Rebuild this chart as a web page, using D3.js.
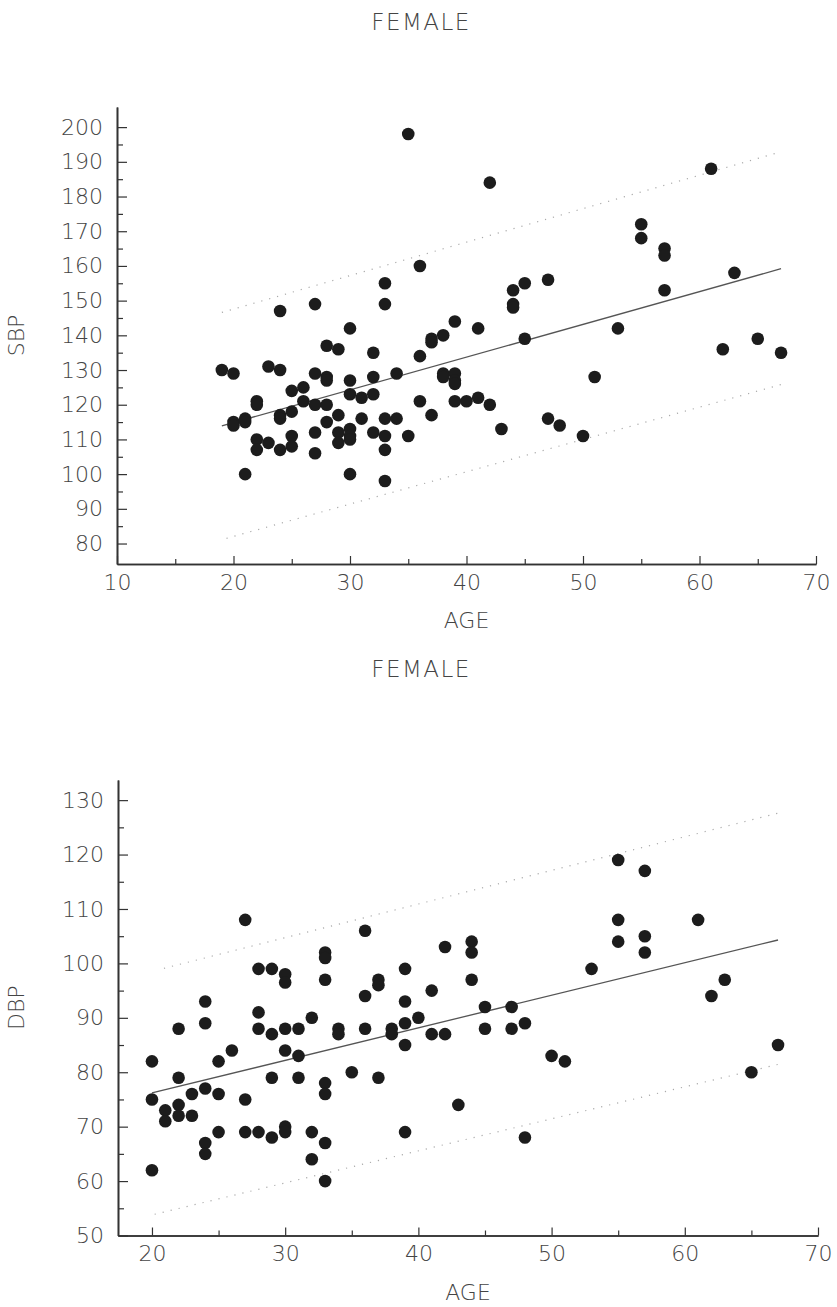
<!DOCTYPE html>
<html>
    <head>
        <meta charset="utf-8" />
        <script src="https://d3js.org/d3.v7.min.js"></script>
        <style>
            body {
                margin: 0;
                background-color: white;
            }
            svg text {
                font-family: 'DejaVu Sans', sans-serif;
                font-weight: 200;
                fill: #444;
            }
        </style>
    </head>
    <body>
        <svg width="837" height="1307"></svg>
        <script>
            // [age, SBP]
            const sbpPoints = [
                [19, 130], [20, 129], [20, 115], [20, 114], [21, 116], [21, 115], [21, 100],
                [22, 121], [22, 120], [22, 110], [22, 107], [23, 131], [23, 109],
                [24, 147], [24, 130], [24, 117], [24, 116], [24, 107],
                [25, 124], [25, 118], [25, 111], [25, 108], [26, 125], [26, 121],
                [27, 149], [27, 129], [27, 120], [27, 112], [27, 106],
                [28, 137], [28, 128], [28, 127], [28, 120], [28, 115],
                [29, 136], [29, 117], [29, 112], [29, 109],
                [30, 142], [30, 127], [30, 123], [30, 113], [30, 111], [30, 110], [30, 100],
                [31, 122], [31, 116], [32, 135], [32, 128], [32, 123], [32, 112],
                [33, 155], [33, 149], [33, 116], [33, 111], [33, 107], [33, 98],
                [34, 129], [34, 116], [35, 198], [35, 111], [36, 160], [36, 134], [36, 121],
                [37, 139], [37, 138], [37, 117], [38, 140], [38, 129], [38, 128],
                [39, 144], [39, 129], [39, 127], [39, 126], [39, 121], [40, 121],
                [41, 142], [41, 122], [42, 184], [42, 120], [43, 113],
                [44, 153], [44, 149], [44, 148], [45, 155], [45, 139], [47, 156], [47, 116],
                [48, 114], [50, 111], [51, 128], [53, 142], [55, 172], [55, 168],
                [57, 165], [57, 163], [57, 153], [61, 188], [62, 136], [63, 158],
                [65, 139], [67, 135]
            ]

            // [age, DBP]
            const dbpPoints = [
                [20, 82], [20, 75], [20, 62], [21, 73], [21, 71],
                [22, 88], [22, 79], [22, 74], [22, 72], [23, 76], [23, 72],
                [24, 93], [24, 89], [24, 77], [24, 67], [24, 65],
                [25, 82], [25, 76], [25, 69], [26, 84], [27, 108], [27, 75], [27, 69],
                [28, 99], [28, 91], [28, 88], [28, 69], [29, 99], [29, 87], [29, 79], [29, 68],
                [30, 98], [30, 96.5], [30, 88], [30, 84], [30, 70], [30, 69],
                [31, 88], [31, 83], [31, 79], [32, 90], [32, 69], [32, 64],
                [33, 102], [33, 101], [33, 97], [33, 78], [33, 76], [33, 67], [33, 60],
                [34, 88], [34, 87], [35, 80], [36, 106], [36, 94], [36, 88],
                [37, 97], [37, 96], [37, 79], [38, 88], [38, 87],
                [39, 99], [39, 93], [39, 89], [39, 85], [39, 69], [40, 90],
                [41, 95], [41, 87], [42, 103], [42, 87], [43, 74],
                [44, 104], [44, 102], [44, 97], [45, 92], [45, 88], [47, 92], [47, 88],
                [48, 89], [48, 68], [50, 83], [51, 82], [53, 99],
                [55, 119], [55, 108], [55, 104], [57, 117], [57, 105], [57, 102],
                [61, 108], [62, 94], [63, 97], [65, 80], [67, 85]
            ]

            // regression line and limits: [age, value]
            const sbpFit = [[19, 113.9], [67, 159.2]]
            const sbpUpper = [[19, 146.6], [67, 192.9]]
            const sbpLower = [[19.4, 81.5], [67.2, 126]]
            const dbpFit = [[20, 76.2], [67, 104.3]]
            const dbpUpper = [[20.9, 99.1], [67, 127.6]]
            const dbpLower = [[20.2, 53.9], [67.1, 81.5]]

            const sbpXTicks = [10, 20, 30, 40, 50, 60, 70]
            const sbpYTicks = [80, 90, 100, 110, 120, 130, 140, 150, 160, 170, 180, 190, 200]
            const dbpXTicks = [20, 30, 40, 50, 60, 70]
            const dbpYTicks = [50, 60, 70, 80, 90, 100, 110, 120, 130]

            const svg = d3.select('svg')

            function panel(cfg) {
                const x = d3.scaleLinear().domain(cfg.xDomain).range(cfg.xRange)
                const y = d3.scaleLinear().domain(cfg.yDomain).range(cfg.yRange)
                const g = svg.append('g')

                const bottom = cfg.yRange[0]
                const left = cfg.xRange[0]

                // minor ticks (every 5)
                const xMinor = d3.range(cfg.xTicks[0] + 5, 70, 10)
                const yMinor = d3.range(cfg.yTicks[0] + 5, cfg.yTicks[cfg.yTicks.length - 1], 10)

                g.append('g')
                    .attr('transform', `translate(0,${bottom})`)
                    .call(d3.axisBottom(x).tickValues(xMinor).tickSize(-5).tickSizeOuter(0).tickFormat(''))
                g.append('g')
                    .attr('transform', `translate(${left},0)`)
                    .call(d3.axisLeft(y).tickValues(yMinor).tickSize(-6).tickSizeOuter(0).tickFormat(''))

                const xAxis = g.append('g')
                    .attr('transform', `translate(0,${bottom})`)
                    .call(d3.axisBottom(x).tickValues(cfg.xTicks).tickSize(-8).tickSizeOuter(0).tickPadding(10))
                const yAxis = g.append('g')
                    .attr('transform', `translate(${left},0)`)
                    .call(d3.axisLeft(y).tickValues(cfg.yTicks).tickSize(-10).tickSizeOuter(0).tickPadding(14))

                g.selectAll('.domain').attr('stroke', '#333').attr('stroke-width', 1.6)
                g.selectAll('.tick line').attr('stroke', '#333').attr('stroke-width', 1.2)
                xAxis.selectAll('text').attr('font-size', 22).attr('font-family', null).attr('fill', '#444')
                yAxis.selectAll('text').attr('font-size', 22).attr('font-family', null).attr('fill', '#444')

                const line = d3.line().x((d) => x(d[0])).y((d) => y(d[1]))

                g.append('path')
                    .attr('d', line(cfg.fit))
                    .attr('fill', 'none')
                    .attr('stroke', '#555')
                    .attr('stroke-width', 1.3)
                ;[cfg.upper, cfg.lower].forEach((band) => {
                    g.append('path')
                        .attr('d', line(band))
                        .attr('fill', 'none')
                        .attr('stroke', '#aaa')
                        .attr('stroke-width', 1.2)
                        .attr('stroke-dasharray', '1.2 7')
                })

                g.selectAll('circle')
                    .data(cfg.points)
                    .enter()
                    .append('circle')
                    .attr('cx', (d) => x(d[0]))
                    .attr('cy', (d) => y(d[1]))
                    .attr('r', 6.3)
                    .attr('fill', '#1c1c1c')

                g.append('text')
                    .attr('x', 421)
                    .attr('y', cfg.titleY)
                    .attr('text-anchor', 'middle')
                    .attr('font-size', 23)
                    .attr('letter-spacing', 1.5)
                    .text('FEMALE')

                g.append('text')
                    .attr('x', (cfg.xRange[0] + cfg.xRange[1]) / 2)
                    .attr('y', bottom + 64)
                    .attr('text-anchor', 'middle')
                    .attr('font-size', 22)
                    .text('AGE')

                const midY = (cfg.yRange[0] + cfg.yRange[1]) / 2
                g.append('text')
                    .attr('transform', `translate(24,${midY}) rotate(-90)`)
                    .attr('text-anchor', 'middle')
                    .attr('font-size', 22)
                    .text(cfg.yLabel)
            }

            panel({
                points: sbpPoints,
                fit: sbpFit,
                upper: sbpUpper,
                lower: sbpLower,
                xDomain: [10, 70],
                xRange: [117, 816],
                yDomain: [74.1, 205.8],
                yRange: [564, 107],
                xTicks: sbpXTicks,
                yTicks: sbpYTicks,
                yLabel: 'SBP',
                titleY: 30
            })

            panel({
                points: dbpPoints,
                fit: dbpFit,
                upper: dbpUpper,
                lower: dbpLower,
                xDomain: [17.45, 70],
                xRange: [118, 818],
                yDomain: [50, 133.7],
                yRange: [1235.5, 780],
                xTicks: dbpXTicks,
                yTicks: dbpYTicks,
                yLabel: 'DBP',
                titleY: 677
            })
        </script>
    </body>
</html>
